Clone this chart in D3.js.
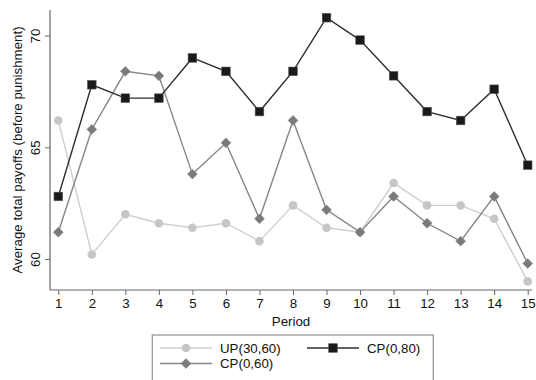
<!DOCTYPE html>
<html>
<head>
<meta charset="utf-8">
<script src="https://cdn.jsdelivr.net/npm/d3@7/dist/d3.min.js"></script>
<style>
  html, body { margin: 0; padding: 0; background: #fff; }
  svg { display: block; font-family: "Liberation Sans", Arial, Helvetica, sans-serif; }
</style>
</head>
<body>
<svg id="chart" width="536" height="380"></svg>
<script>
// Periods on the x axis
const periods = [1, 2, 3, 4, 5, 6, 7, 8, 9, 10, 11, 12, 13, 14, 15];

// Average total payoffs (before punishment) per treatment
const up3060 = [66.2, 60.2, 62.0, 61.6, 61.4, 61.6, 60.8, 62.4, 61.4, 61.2, 63.4, 62.4, 62.4, 61.8, 59.0];
const cp080  = [62.8, 67.8, 67.2, 67.2, 69.0, 68.4, 66.6, 68.4, 70.8, 69.8, 68.2, 66.6, 66.2, 67.6, 64.2];
const cp060  = [61.2, 65.8, 68.4, 68.2, 63.8, 65.2, 61.8, 66.2, 62.2, 61.2, 62.8, 61.6, 60.8, 62.8, 59.8];

const yTicks = [60, 65, 70];
const seriesNames = ["UP(30,60)", "CP(0,80)", "CP(0,60)"];

const svg = d3.select("#chart");

const x = d3.scaleLinear().domain([1, 15]).range([58.3, 527.7]);
const y = d3.scaleLinear().domain([60, 70]).range([259, 35.6]);

const axisColor = "#666";
const fs = 13.3;

// Axes
const xAxis = svg.append("g")
  .attr("transform", "translate(0,290)")
  .call(d3.axisBottom(x).tickValues(periods).tickFormat(d3.format("d")).tickSize(5).tickSizeOuter(0));
xAxis.select(".domain").attr("d", "M50,0H532");

const yAxis = svg.append("g")
  .attr("transform", "translate(50,0)")
  .call(d3.axisLeft(y).tickValues(yTicks).tickSize(5).tickSizeOuter(0));
yAxis.select(".domain").attr("d", "M0,10V290");

[xAxis, yAxis].forEach(g => {
  g.select(".domain").attr("stroke", axisColor).attr("stroke-width", 1.2);
  g.selectAll(".tick line").attr("stroke", axisColor).attr("stroke-width", 1);
  g.selectAll(".tick text").attr("fill", "#111").attr("font-size", fs)
    .attr("font-family", "'Liberation Sans', Arial, sans-serif");
});
xAxis.selectAll(".tick text").attr("y", 9);
// y tick labels read bottom-to-top like the axis title
yAxis.selectAll(".tick text")
  .attr("x", null).attr("dy", null)
  .attr("text-anchor", "middle")
  .attr("transform", "translate(-15,0) rotate(-90)")
  .attr("y", 0)
  .attr("dominant-baseline", "central");

// Axis titles
svg.append("text")
  .attr("x", 291).attr("y", 326)
  .attr("text-anchor", "middle")
  .attr("font-size", fs).attr("fill", "#111")
  .text("Period");

svg.append("text")
  .attr("transform", "translate(17,150) rotate(-90)")
  .attr("text-anchor", "middle")
  .attr("dominant-baseline", "central")
  .attr("font-size", fs).attr("fill", "#111")
  .text("Average total payoffs (before punishment)");

// Series styles
const styles = {
  "UP(30,60)": { values: up3060, line: "#cfcfcf", fill: "#c6c6c6", marker: "circle" },
  "CP(0,60)":  { values: cp060,  line: "#858585", fill: "#7a7a7a", marker: "diamond" },
  "CP(0,80)":  { values: cp080,  line: "#2e2e2e", fill: "#1a1a1a", marker: "square" }
};

const line = d3.line().x(d => x(d.p)).y(d => y(d.v));

function drawMarker(g, type, cx, cy, fill, stroke) {
  if (type === "circle") {
    g.append("circle").attr("cx", cx).attr("cy", cy).attr("r", 4.3).attr("fill", fill);
  } else if (type === "diamond") {
    g.append("path")
      .attr("d", d3.symbol().type(d3.symbolDiamond2).size(62)())
      .attr("transform", `translate(${cx},${cy})`)
      .attr("fill", fill).attr("stroke", stroke).attr("stroke-width", 0.6);
  } else {
    g.append("rect").attr("x", cx - 4.3).attr("y", cy - 4.3)
      .attr("width", 8.6).attr("height", 8.6)
      .attr("fill", fill).attr("stroke", "#555").attr("stroke-width", 0.6);
  }
}

// Draw order: light circles, diamonds, then black squares on top
["UP(30,60)", "CP(0,60)", "CP(0,80)"].forEach(name => {
  const s = styles[name];
  const data = periods.map((p, i) => ({ p, v: s.values[i] }));
  const g = svg.append("g");
  g.append("path").datum(data)
    .attr("d", line).attr("fill", "none")
    .attr("stroke", s.line).attr("stroke-width", 1.4);
  data.forEach(d => drawMarker(g, s.marker, x(d.p), y(d.v), s.fill, s.line));
});

// Legend
const lg = svg.append("g");
lg.append("rect").attr("x", 152.3).attr("y", 335).attr("width", 281).attr("height", 60)
  .attr("fill", "#fff").attr("stroke", "#999").attr("stroke-width", 1.3);

const legendItems = [
  { name: "UP(30,60)", x0: 160, row: 348 },
  { name: "CP(0,80)",  x0: 307, row: 348 },
  { name: "CP(0,60)",  x0: 160, row: 363.5 }
];
legendItems.forEach(it => {
  const s = styles[it.name];
  lg.append("line").attr("x1", it.x0).attr("x2", it.x0 + 52)
    .attr("y1", it.row).attr("y2", it.row)
    .attr("stroke", s.line).attr("stroke-width", 1.4);
  drawMarker(lg, s.marker, it.x0 + 26, it.row, s.fill, s.line);
  lg.append("text").attr("x", it.x0 + 60).attr("y", it.row)
    .attr("dominant-baseline", "central")
    .attr("font-size", 13.3).attr("fill", "#111")
    .text(it.name);
});
</script>
</body>
</html>
